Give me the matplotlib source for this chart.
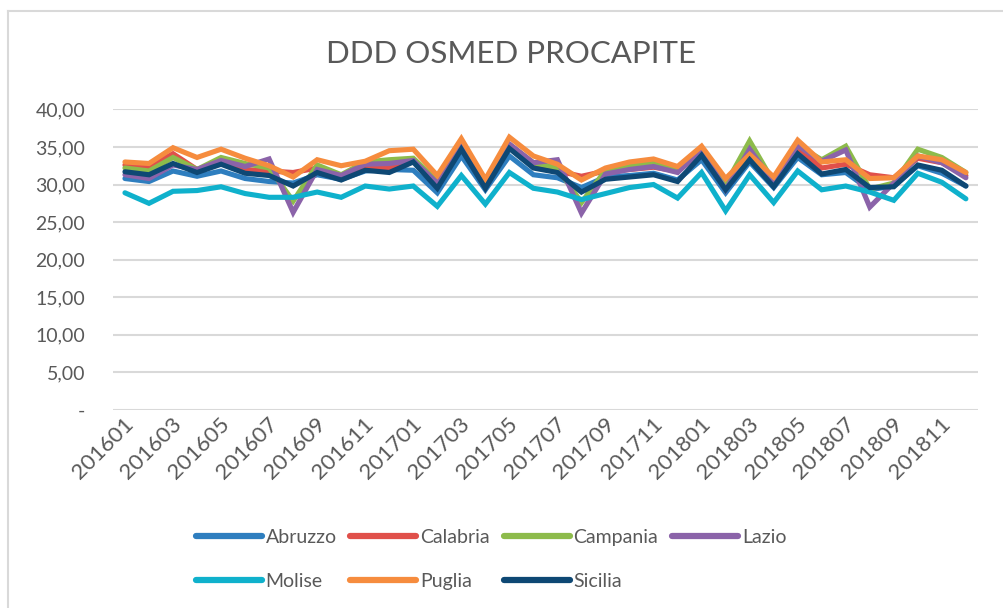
import matplotlib
matplotlib.use("Agg")
import matplotlib.pyplot as plt
from matplotlib.lines import Line2D
from matplotlib.transforms import ScaledTranslation

plt.rcParams["font.family"] = ["Lato", "DejaVu Sans"]

# months 201601 .. 201812
months = [f"{y}{m:02d}" for y in (2016, 2017, 2018) for m in range(1, 13)]

abruzzo = [30.8, 30.4, 31.8, 31.1, 31.8, 30.8, 30.4, 30.2, 31.3, 30.7, 31.8, 32.0,
           31.9, 28.9, 33.8, 29.3, 33.8, 31.3, 30.9, 29.6, 31.0, 31.2, 31.5, 30.6,
           33.3, 28.9, 33.0, 29.6, 33.6, 31.3, 31.6, 29.3, 29.8, 32.5, 31.5, 29.8]
calabria = [32.6, 32.4, 34.1, 32.0, 33.0, 32.0, 31.8, 31.6, 32.2, 31.2, 32.2, 32.2,
            33.2, 30.5, 35.0, 29.8, 35.0, 32.5, 31.8, 31.1, 31.8, 32.0, 32.3, 31.8,
            34.3, 29.8, 34.0, 30.3, 34.8, 32.2, 32.7, 31.3, 30.9, 33.5, 32.9, 31.2]
campania = [32.2, 31.8, 33.6, 32.0, 33.6, 32.8, 32.2, 27.8, 32.6, 31.3, 33.0, 33.3,
            33.5, 30.5, 35.3, 29.9, 35.3, 32.9, 32.2, 27.6, 31.9, 32.6, 33.0, 31.8,
            34.6, 30.0, 35.8, 30.3, 35.2, 33.3, 35.1, 29.4, 30.2, 34.7, 33.6, 31.6]
lazio = [31.3, 30.8, 32.6, 32.0, 33.2, 32.4, 33.4, 26.3, 32.0, 31.2, 32.7, 32.8,
         33.2, 30.2, 35.3, 30.0, 35.4, 32.9, 33.3, 26.2, 31.4, 32.0, 32.4, 31.6,
         34.6, 29.3, 34.7, 30.3, 35.2, 33.1, 34.6, 27.0, 30.2, 33.8, 32.9, 30.9]
molise = [28.9, 27.5, 29.1, 29.2, 29.7, 28.8, 28.3, 28.3, 29.0, 28.3, 29.8, 29.4,
          29.8, 27.1, 31.2, 27.4, 31.6, 29.5, 29.0, 28.0, 28.8, 29.6, 30.0, 28.2,
          31.6, 26.5, 31.3, 27.6, 31.8, 29.3, 29.8, 29.0, 27.9, 31.5, 30.3, 28.1]
puglia = [33.0, 32.8, 34.9, 33.6, 34.7, 33.5, 32.5, 31.0, 33.3, 32.5, 33.1, 34.5,
          34.7, 31.2, 36.1, 30.7, 36.3, 33.8, 32.7, 30.6, 32.2, 33.0, 33.4, 32.4,
          35.1, 30.8, 34.0, 31.0, 35.9, 33.0, 33.3, 30.8, 30.9, 33.8, 33.3, 31.6]
sicilia = [31.7, 31.3, 32.8, 31.6, 32.7, 31.5, 31.2, 29.8, 31.6, 30.6, 31.9, 31.6,
           33.0, 29.5, 34.7, 29.5, 34.8, 32.2, 31.6, 29.0, 30.7, 31.0, 31.3, 30.4,
           33.9, 29.3, 33.3, 29.7, 34.1, 31.4, 32.0, 29.6, 29.7, 32.6, 31.9, 29.8]

regions = ["Abruzzo", "Calabria", "Campania", "Lazio", "Molise", "Puglia", "Sicilia"]
series = [abruzzo, calabria, campania, lazio, molise, puglia, sicilia]
colors = ["#2E7EBF", "#E0504A", "#8DBB4B", "#8B63A9", "#0FB1CC", "#F68C3E", "#0E4874"]

TXT = "#595959"
GRID = "#D9D9D9"

fig = plt.figure(figsize=(10.04, 6.08), dpi=100)
ax = fig.add_axes([0.1125, 0.3257, 0.8615, 0.4944])

x = list(range(len(months)))
lines = []
for name, vals, c in zip(regions, series, colors):
    ln, = ax.plot(x, vals, color=c, lw=3.7, label=name, solid_joinstyle="miter",
                  solid_capstyle="round")
    lines.append(ln)

ax.set_xlim(-0.5, len(months) - 0.5)
ax.set_ylim(0, 40)
ax.set_yticks(range(0, 45, 5))
ax.set_yticklabels(["-" if v == 0 else f"{v:.2f}".replace(".", ",")
                    for v in range(0, 45, 5)], fontsize=14, color=TXT)
ax.yaxis.grid(True, color=GRID, lw=1.5)
ax.set_axisbelow(True)
ax.tick_params(axis="y", length=0, pad=20)
ax.tick_params(axis="x", length=0, pad=8)
for s in ax.spines.values():
    s.set_visible(False)

ax.set_xticks(x[::2])
ax.set_xticklabels(months[::2], rotation=45, ha="right", va="center",
                   rotation_mode="anchor", fontsize=16, color=TXT)
shift = ScaledTranslation(4 / 72, 0, fig.dpi_scale_trans)
for lbl in ax.get_xticklabels():
    lbl.set_transform(lbl.get_transform() + shift)

fig.text(0.509, 0.911, "DDD OSMED PROCAPITE", ha="center", va="center",
         fontsize=22.5, color=TXT)

# chart area border (left/top visible in the crop)
fig.add_artist(Line2D([0.008, 0.008], [0.0, 0.982], transform=fig.transFigure,
                      color=GRID, lw=1.5))
fig.add_artist(Line2D([0.008, 1.0], [0.982, 0.982], transform=fig.transFigure,
                      color=GRID, lw=1.5))

# legend filled column-wise, so reorder to read row by row like the original
order = [0, 4, 1, 5, 2, 6, 3]
leg = fig.legend([lines[i] for i in order], [regions[i] for i in order],
                 loc="center", bbox_to_anchor=(0.489, 0.080), ncol=4,
                 frameon=False, fontsize=14, handlelength=3.4, handletextpad=0.2,
                 columnspacing=0.7, labelspacing=1.4)
for t in leg.get_texts():
    t.set_color(TXT)
for h in leg.get_lines():
    h.set_linewidth(4.5)
    h.set_solid_capstyle("round")

fig.savefig("out.png", dpi=100)
